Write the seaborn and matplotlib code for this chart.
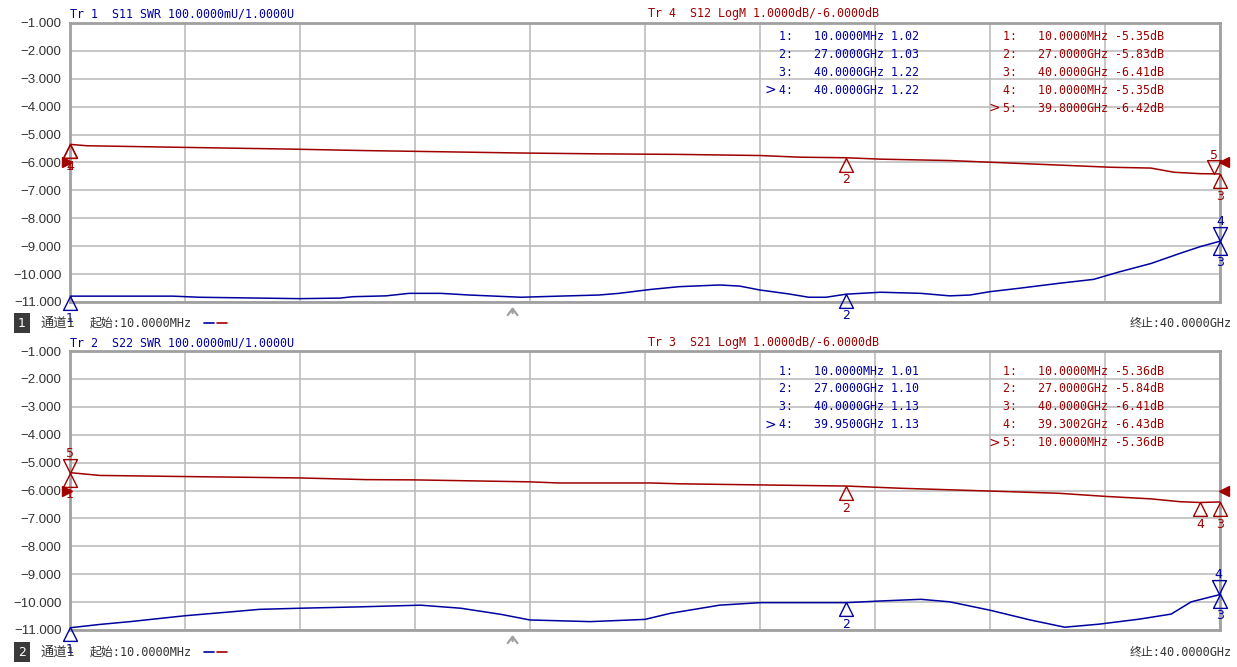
import numpy as np
import pandas as pd
import matplotlib
matplotlib.use("Agg")
import matplotlib.pyplot as plt
import seaborn as sns
from matplotlib.path import Path
from matplotlib.lines import Line2D
from matplotlib.transforms import blended_transform_factory

# ------------------------------------------------------------
# DATA (frequency in GHz)
# ------------------------------------------------------------
# top window: Tr1 S11 SWR (blue) and Tr4 S12 LogM (red)
s11_freq = [0.01, 1.0, 3.6, 4.5, 8.0, 9.4, 9.85, 11.0, 11.8, 12.9, 13.9, 15.7, 17.0,
            18.4, 19.1, 20.2, 21.2, 22.6, 23.3, 24.0, 25.0, 25.7, 26.3, 27.0, 28.2,
            29.6, 30.6, 31.3, 32.0, 33.0, 34.4, 35.6, 36.5, 37.6, 38.6, 39.3, 40.0]
s11_swr = [1.021, 1.021, 1.021, 1.017, 1.012, 1.014, 1.019, 1.022, 1.031, 1.031, 1.025,
           1.017, 1.021, 1.025, 1.031, 1.045, 1.055, 1.061, 1.057, 1.043, 1.029, 1.017,
           1.017, 1.028, 1.035, 1.031, 1.022, 1.025, 1.037, 1.049, 1.067, 1.081, 1.108,
           1.138, 1.174, 1.198, 1.218]

s12_freq = [0.01, 0.6, 3.5, 7.7, 10.1, 12.0, 15.7, 18.4, 21.2, 24.0, 25.4, 27.0, 28.2,
            30.6, 32.0, 34.1, 36.2, 37.6, 38.4, 39.3, 40.0]
s12_db = [-5.35, -5.40, -5.45, -5.52, -5.57, -5.60, -5.66, -5.69, -5.71, -5.75, -5.81,
          -5.83, -5.88, -5.93, -5.99, -6.08, -6.17, -6.20, -6.35, -6.40, -6.41]

# bottom window: Tr2 S22 SWR (blue) and Tr3 S21 LogM (red)
s22_freq = [0.01, 0.36, 1.05, 2.1, 4.0, 5.6, 6.6, 8.0, 10.1, 12.2, 13.6, 15.0, 16.0,
            18.1, 20.0, 20.9, 22.6, 24.0, 27.0, 28.2, 29.6, 30.6, 32.0, 33.4, 34.6,
            35.8, 37.2, 38.3, 39.0, 40.0]
s22_swr = [1.008, 1.012, 1.020, 1.030, 1.051, 1.065, 1.074, 1.078, 1.083, 1.089, 1.078,
           1.056, 1.036, 1.030, 1.038, 1.060, 1.089, 1.098, 1.098, 1.104, 1.110, 1.101,
           1.071, 1.036, 1.010, 1.021, 1.039, 1.057, 1.101, 1.127]

s21_freq = [0.01, 1.05, 4.0, 8.0, 10.3, 12.0, 16.0, 17.0, 20.2, 21.2, 24.0, 27.0, 28.9,
            32.0, 34.4, 36.0, 37.6, 38.6, 39.3, 40.0]
s21_db = [-5.36, -5.46, -5.50, -5.55, -5.61, -5.62, -5.69, -5.73, -5.73, -5.76, -5.80,
          -5.84, -5.92, -6.02, -6.10, -6.21, -6.30, -6.40, -6.43, -6.41]

# marker tables
s11_mk_freq = [0.01, 27.0, 40.0, 40.0]
s11_mk_text = ["10.0000MHz", "27.0000GHz", "40.0000GHz", "40.0000GHz"]
s11_mk_val = [1.02, 1.03, 1.22, 1.22]
s11_active = 4

s12_mk_freq = [0.01, 27.0, 40.0, 0.01, 39.8]
s12_mk_text = ["10.0000MHz", "27.0000GHz", "40.0000GHz", "10.0000MHz", "39.8000GHz"]
s12_mk_val = [-5.35, -5.83, -6.41, -5.35, -6.42]
s12_active = 5

s22_mk_freq = [0.01, 27.0, 40.0, 39.95]
s22_mk_text = ["10.0000MHz", "27.0000GHz", "40.0000GHz", "39.9500GHz"]
s22_mk_val = [1.01, 1.10, 1.13, 1.13]
s22_active = 4

s21_mk_freq = [0.01, 27.0, 40.0, 39.3002, 0.01]
s21_mk_text = ["10.0000MHz", "27.0000GHz", "40.0000GHz", "39.3002GHz", "10.0000MHz"]
s21_mk_val = [-5.36, -5.84, -6.41, -6.43, -5.36]
s21_active = 5

ytick_vals = [-1, -2, -3, -4, -5, -6, -7, -8, -9, -10, -11]
start_ghz, stop_ghz = 0.01, 40.0
ref_db = -6.0
swr_ref, swr_per_div = 1.0, 0.1
sweep_arrow_ghz = 15.4

titles_top = ["Tr 1  S11 SWR 100.0000mU/1.0000U", "Tr 4  S12 LogM 1.0000dB/-6.0000dB"]
titles_bot = ["Tr 2  S22 SWR 100.0000mU/1.0000U", "Tr 3  S21 LogM 1.0000dB/-6.0000dB"]

# ------------------------------------------------------------
# STYLE
# ------------------------------------------------------------
sns.set_style("white")
plt.rcParams["font.family"] = ["DejaVu Sans Mono", "Noto Sans CJK SC"]

BLUE = "#0000A0"
RED = "#A00000"
GRID = "#BDBDBD"
FRAME = "#A0A0A0"
TXT = "#333333"
MONO = ["DejaVu Sans Mono", "Noto Sans CJK SC"]

W, H = 1237, 667
fig = plt.figure(figsize=(W / 100, H / 100), dpi=100)
fig.patch.set_facecolor("white")


def fx(px):
    return px / W


def fy(py):
    return 1 - py / H


def swr_to_disp(v):
    return -11 + (np.asarray(v) - swr_ref) / swr_per_div


tri_below = Path([(0, 0), (-0.5, -1), (0.5, -1), (0, 0)], closed=True)
tri_above = Path([(0, 0), (-0.5, 1), (0.5, 1), (0, 0)], closed=True)


def draw_markers(ax, freqs, vals, active, color):
    for i, (f, v) in enumerate(zip(freqs, vals)):
        n = i + 1
        path = tri_above if n == active else tri_below
        ax.plot([f], [v], marker=path, ms=20, mfc="none", mec=color, mew=1.0,
                clip_on=False, zorder=5)
        dy = 13.5 if n == active else -16
        ax.annotate(str(n), xy=(f, v), xytext=(0, dy), textcoords="offset points",
                    ha="center", va="center", color=color, fontsize=9,
                    family="DejaVu Sans", annotation_clip=False)


def marker_table(x_px, y0_px, texts, vals, active, color, unit):
    for i, (t, v) in enumerate(zip(texts, vals)):
        n = i + 1
        y = y0_px + 18 * i
        fig.text(fx(x_px), fy(y), f"{n}:   {t} {v:.2f}{unit}", color=color,
                 fontsize=8.4, family=MONO, va="center", ha="left")
        if n == active:
            fig.text(fx(x_px - 15), fy(y), ">", color=color, fontsize=10,
                     family="DejaVu Sans", va="center", ha="left")


def draw_panel(top_px, bot_px, swr_f, swr_v, db_f, db_v):
    ax = fig.add_axes([fx(70), fy(bot_px), (1220 - 70) / W, (bot_px - top_px) / H])
    df_swr = pd.DataFrame({"freq": swr_f, "disp": swr_to_disp(swr_v)})
    df_db = pd.DataFrame({"freq": db_f, "disp": db_v})
    sns.lineplot(data=df_db, x="freq", y="disp", color=RED, lw=1.1, ax=ax,
                 estimator=None, sort=False, zorder=4)
    sns.lineplot(data=df_swr, x="freq", y="disp", color=BLUE, lw=1.1, ax=ax,
                 estimator=None, sort=False, zorder=4)
    ax.set_xlim(start_ghz, stop_ghz)
    ax.set_ylim(-11, -1)
    ax.set_xticks(np.linspace(start_ghz, stop_ghz, 11))
    ax.set_xticklabels([])
    ax.set_yticks(ytick_vals)
    ax.set_yticklabels([f"{v:.3f}".replace("-", "\u2212") for v in ytick_vals],
                       fontsize=9.5, color=TXT, family="Liberation Sans")
    ax.tick_params(length=0, pad=6)
    ax.set_xlabel("")
    ax.set_ylabel("")
    ax.grid(True, color=GRID, lw=1.2)
    for sp in ax.spines.values():
        sp.set_color(FRAME)
        sp.set_linewidth(2.0)
        sp.set_visible(True)
    # reference level arrows for LogM trace
    tr = blended_transform_factory(ax.transAxes, ax.transData)
    ax.plot([-0.0028], [ref_db], marker=">", ms=7, color=RED, transform=tr,
            clip_on=False, zorder=6)
    ax.plot([1.0035], [ref_db], marker="<", ms=7, color=RED, transform=tr,
            clip_on=False, zorder=6)
    # sweep position arrow below the grid
    tr2 = blended_transform_factory(ax.transData, ax.transAxes)
    ax.annotate("", xy=(sweep_arrow_ghz, -0.008), xytext=(sweep_arrow_ghz, -0.05),
                xycoords=tr2, textcoords=tr2, annotation_clip=False,
                arrowprops=dict(arrowstyle="->,head_length=0.45,head_width=0.35",
                                color="#A0A0A0", lw=1.6))
    return ax


# ------------------------------------------------------------
# TOP WINDOW
# ------------------------------------------------------------
ax1 = draw_panel(23, 302, s11_freq, s11_swr, s12_freq, s12_db)
draw_markers(ax1, s12_mk_freq, s12_mk_val, s12_active, RED)
draw_markers(ax1, s11_mk_freq, swr_to_disp(s11_mk_val), s11_active, BLUE)
fig.text(fx(70), fy(14), titles_top[0], color=BLUE, fontsize=8.4, family=MONO, va="center")
fig.text(fx(648), fy(14), titles_top[1], color=RED, fontsize=8.4, family=MONO, va="center")
marker_table(779, 36, s11_mk_text, s11_mk_val, s11_active, BLUE, "")
marker_table(1003, 36, s12_mk_text, s12_mk_val, s12_active, RED, "dB")

# ------------------------------------------------------------
# BOTTOM WINDOW
# ------------------------------------------------------------
ax2 = draw_panel(351, 630, s22_freq, s22_swr, s21_freq, s21_db)
draw_markers(ax2, s21_mk_freq, s21_mk_val, s21_active, RED)
draw_markers(ax2, s22_mk_freq, swr_to_disp(s22_mk_val), s22_active, BLUE)
fig.text(fx(70), fy(343), titles_bot[0], color=BLUE, fontsize=8.4, family=MONO, va="center")
fig.text(fx(648), fy(343), titles_bot[1], color=RED, fontsize=8.4, family=MONO, va="center")
marker_table(779, 371, s22_mk_text, s22_mk_val, s22_active, BLUE, "")
marker_table(1003, 371, s21_mk_text, s21_mk_val, s21_active, RED, "dB")

# ------------------------------------------------------------
# CHANNEL STATUS LINES
# ------------------------------------------------------------
for num, y in [("1", 323), ("2", 652)]:
    fig.text(fx(22), fy(y), num, color="white", fontsize=9, family="DejaVu Sans",
             ha="center", va="center",
             bbox=dict(boxstyle="square,pad=0.3", fc="#3A3A3A", ec="none"))
    fig.text(fx(40), fy(y), "通道1", color=TXT, fontsize=9.5, family=MONO, va="center")
    fig.text(fx(90), fy(y), "起始:10.0000MHz", color=TXT, fontsize=8.6, family=MONO, va="center")
    fig.add_artist(Line2D([fx(204), fx(214)], [fy(y), fy(y)], color=BLUE, lw=1.2))
    fig.add_artist(Line2D([fx(217), fx(227)], [fy(y), fy(y)], color=RED, lw=1.2))
    fig.text(fx(1232), fy(y), "终止:40.0000GHz", color=TXT, fontsize=8.6, family=MONO,
             ha="right", va="center")

plt.savefig("out.png", dpi=100, facecolor="white")
